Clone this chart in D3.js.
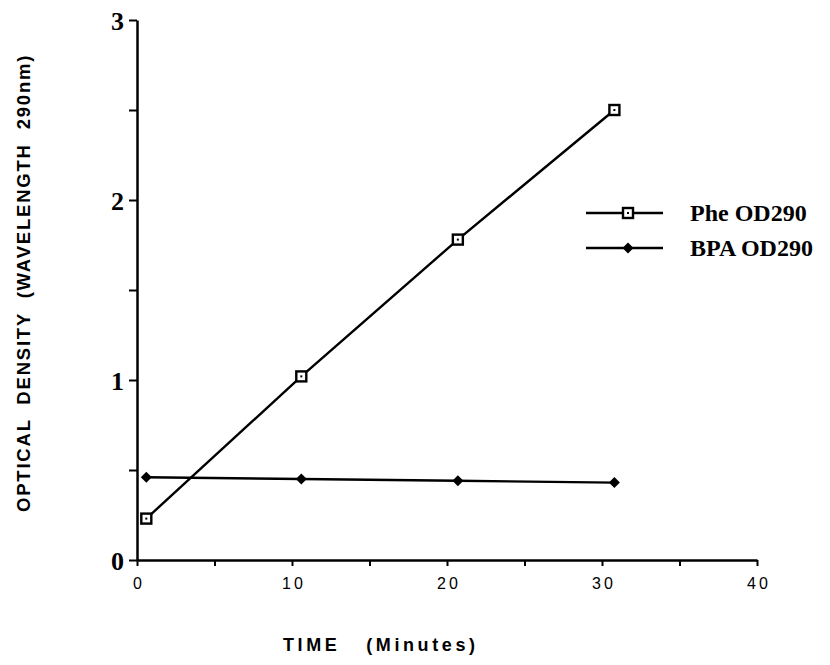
<!DOCTYPE html>
<html>
<head>
<meta charset="utf-8">
<script src="https://cdn.jsdelivr.net/npm/d3@7.9.0/dist/d3.min.js"></script>
<style>
  body { margin: 0; background: #fff; }
  svg { display: block; }
  .ylab { font-family: "Liberation Serif", "Times New Roman", serif; font-weight: bold; font-size: 26px; }
  .xlab { font-family: "Liberation Sans", Arial, sans-serif; font-size: 16px; letter-spacing: 3px; }
  .title { font-family: "Liberation Sans", Arial, sans-serif; font-weight: bold; }
  .legend text { font-family: "Liberation Serif", "Times New Roman", serif; font-weight: bold; font-size: 24px; }
</style>
</head>
<body>
<svg id="chart" width="830" height="665"></svg>
<script>
// time in minutes
const times = [0.6, 10.6, 20.7, 30.8];
// optical density at 290nm
const pheOD = [0.23, 1.02, 1.78, 2.50];
const bpaOD = [0.46, 0.45, 0.44, 0.43];
const seriesNames = ["Phe OD290", "BPA OD290"];
const xTicks = [0, 10, 20, 30, 40];
const yTicks = [0, 1, 2, 3];

const svg = d3.select("#chart");

const x = d3.scaleLinear().domain([0, 40]).range([137, 757]);
const y = d3.scaleLinear().domain([0, 3]).range([560, 20]);

// x axis: ticks point down, labels below
const xAxis = d3.axisBottom(x)
  .tickValues(d3.range(0, 41, 5))
  .tickSize(6)
  .tickSizeOuter(0)
  .tickFormat(d => xTicks.includes(d) ? d : "");
const gx = svg.append("g").attr("transform", `translate(0,${y(0)})`).call(xAxis);
gx.select(".domain").attr("stroke-width", 2.5);
gx.selectAll(".tick line").attr("stroke-width", 2);
gx.selectAll(".tick text").attr("class", "xlab").attr("dy", "1.25em").attr("dx", "1.5px").attr("fill", "#000");

// y axis: ticks point left
const yAxis = d3.axisLeft(y)
  .tickValues(d3.range(0, 3.01, 0.5))
  .tickSize(8)
  .tickSizeOuter(0)
  .tickFormat(d => yTicks.includes(d) ? d : "");
const gy = svg.append("g").attr("transform", `translate(${x(0)},0)`).call(yAxis);
gy.select(".domain").attr("stroke-width", 2.5);
gy.selectAll(".tick line").attr("stroke-width", 2);
gy.selectAll(".tick text").attr("class", "ylab").attr("x", -13).attr("dy", "0.35em").attr("fill", "#000");

const line = d3.line().x(d => x(d[0])).y(d => y(d[1]));
const pheData = times.map((t, i) => [t, pheOD[i]]);
const bpaData = times.map((t, i) => [t, bpaOD[i]]);

svg.append("path").datum(pheData).attr("d", line)
  .attr("fill", "none").attr("stroke", "#000").attr("stroke-width", 2.4);
svg.append("path").datum(bpaData).attr("d", line)
  .attr("fill", "none").attr("stroke", "#000").attr("stroke-width", 2.4);

function squareMark(g) {
  g.append("rect").attr("x", -5).attr("y", -5).attr("width", 10).attr("height", 10)
    .attr("fill", "#fff").attr("stroke", "#000").attr("stroke-width", 2.4);
  g.append("rect").attr("x", -1).attr("y", -1).attr("width", 2).attr("height", 2).attr("fill", "#000");
}
function diamondMark(g) {
  g.append("path").attr("d", "M0,-5.5L5.5,0L0,5.5L-5.5,0Z").attr("fill", "#000");
}

svg.selectAll(".phe").data(pheData).enter().append("g")
  .attr("class", "phe")
  .attr("transform", d => `translate(${x(d[0])},${y(d[1])})`)
  .each(function () { squareMark(d3.select(this)); });

svg.selectAll(".bpa").data(bpaData).enter().append("g")
  .attr("class", "bpa")
  .attr("transform", d => `translate(${x(d[0])},${y(d[1])})`)
  .each(function () { diamondMark(d3.select(this)); });

// legend
const legend = svg.append("g").attr("class", "legend");
const legendY = [213, 248];
seriesNames.forEach((name, i) => {
  const row = legend.append("g").attr("transform", `translate(0,${legendY[i]})`);
  row.append("line").attr("x1", 586).attr("x2", 663).attr("y1", 0).attr("y2", 0)
    .attr("stroke", "#000").attr("stroke-width", 2.4);
  const m = row.append("g").attr("transform", "translate(628,0)");
  if (i === 0) squareMark(m); else diamondMark(m);
  row.append("text").attr("x", 690).attr("y", 8).text(name);
});

// axis titles
svg.append("text").attr("class", "title")
  .attr("x", 283).attr("y", 651)
  .style("font-size", "18px").style("letter-spacing", "3.6px")
  .attr("xml:space", "preserve")
  .text("TIME   (Minutes)");

svg.append("text").attr("class", "title")
  .attr("transform", "translate(30,512) rotate(-90)")
  .style("font-size", "18.5px").style("letter-spacing", "1.8px")
  .attr("xml:space", "preserve")
  .text("OPTICAL  DENSITY  (WAVELENGTH  290nm)");
</script>
</body>
</html>
